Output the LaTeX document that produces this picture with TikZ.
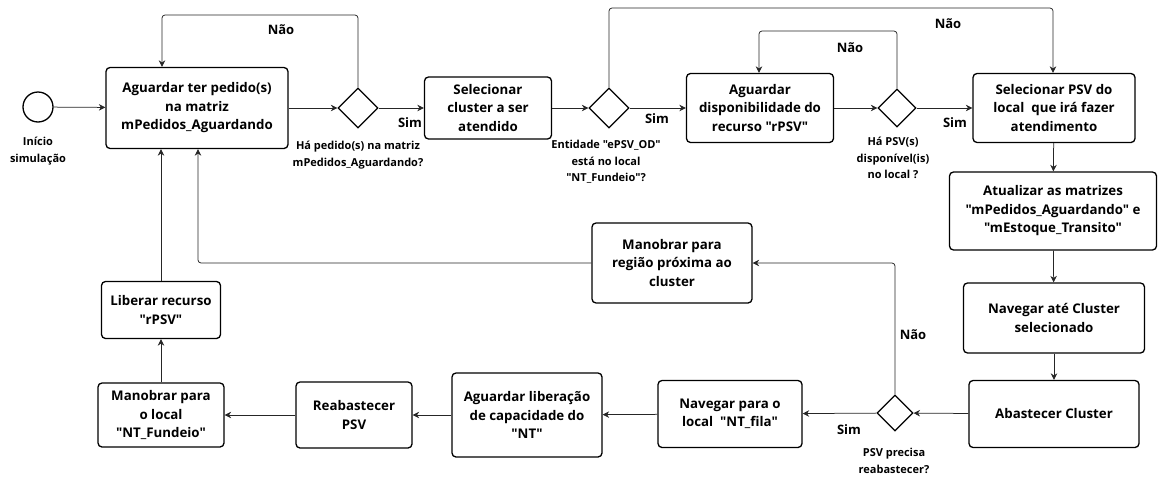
\documentclass[tikz,border=0pt]{standalone}
\usepackage{fontspec}
\setmainfont{Open Sans}[Ligatures=TeXOff]
\usetikzlibrary{shapes.geometric,arrows.meta}
\newcommand{\qq}{\symbol{34}}
\begin{document}
\begin{tikzpicture}[x=1pt,y=-1pt,
  font=\bfseries\fontsize{13.3}{18.5}\selectfont,
  box/.style={draw, line width=1.3pt, rounded corners=4pt, align=center, inner sep=2pt},
  gate/.style={draw, diamond, line width=1.3pt, minimum width=40pt, minimum height=40pt, inner sep=0pt},
  startev/.style={draw, circle, line width=1.3pt, minimum size=30pt, inner sep=0pt},
  conn/.style={draw=black!85, line width=0.75pt, -{Stealth[length=6.5pt,width=6.5pt]}},
  lbl/.style={font=\bfseries\fontsize{11}{16.5}\selectfont, align=center},
  ans/.style={font=\bfseries\fontsize{13}{15}\selectfont}
]
\useasboundingbox (0,0) rectangle (1159,477);

% top row
\node[startev] (start) at (38,107) {};
\node[lbl] (startlbl) at (38,151) {Início\\simulação};
\node[box, minimum width=182pt, minimum height=81pt] (A) at (197,108) {Aguardar ter pedido(s)\\na matriz\\mPedidos\_Aguardando};
\node[gate] (D1) at (358,108) {};
\node[lbl] (D1lbl) at (358,155) {Há pedido(s) na matriz\\mPedidos\_Aguardando?};
\node[box, minimum width=127pt, minimum height=62pt] (B) at (488,108) {Selecionar\\cluster a ser\\atendido};
\node[gate] (D2) at (609,108) {};
\node[lbl] (D2lbl) at (606,162) {Entidade \qq ePSV\_OD\qq\\está no local\\\qq NT\_Fundeio\qq?};
\node[box, minimum width=147pt, minimum height=69pt] (C) at (760,108) {Aguardar\\disponibilidade do\\recurso \qq rPSV\qq};
\node[gate, minimum width=38pt, minimum height=38pt] (D3) at (897,108) {};
\node[lbl] (D3lbl) at (893,158) {Há PSV(s)\\disponível(is)\\no local ?};
\node[box, minimum width=162pt, minimum height=69pt] (E) at (1054,108) {Selecionar PSV do\\local\ \ que irá fazer\\atendimento};

% right column
\node[box, minimum width=207pt, minimum height=78pt] (F) at (1053,211) {Atualizar as matrizes\\\qq mPedidos\_Aguardando\qq\ e\\\qq mEstoque\_Transito\qq};
\node[box, minimum width=181pt, minimum height=70pt] (G) at (1054,318) {Navegar até Cluster\\selecionado};
\node[box, minimum width=170pt, minimum height=67pt] (H) at (1054,414) {Abastecer Cluster};

% bottom row
\node[gate, minimum width=36pt, minimum height=36pt] (D4) at (895,413) {};
\node[lbl] (D4lbl) at (894,461) {PSV precisa\\reabastecer?};
\node[box, minimum width=160pt, minimum height=80pt] (I) at (672,263) {Manobrar para\\região próxima ao\\cluster};
\node[box, minimum width=144pt, minimum height=67pt] (J) at (730,414) {Navegar para o\\local\ \ \qq NT\_fila\qq};
\node[box, minimum width=150pt, minimum height=84pt] (K) at (527,415) {Aguardar liberação\\de capacidade do\\\qq NT\qq};
\node[box, minimum width=116pt, minimum height=66pt] (L) at (354,415) {Reabastecer\\PSV};
\node[box, minimum width=126pt, minimum height=64pt] (M) at (161,415) {Manobrar para\\o local\\\qq NT\_Fundeio\qq};
\node[box, minimum width=119pt, minimum height=57pt] (N) at (161,310) {Liberar recurso\\\qq rPSV\qq};

% loop corners
\coordinate (l1) at (162,15);
\coordinate (l2) at (1053,8);
\coordinate (l3) at (759,31);
\coordinate (l4) at (198,263);

% main flow
\draw[conn] (start) -- (A);
\draw[conn] (A) -- (D1);
\draw[conn] (D1) -- (B);
\draw[conn] (B) -- (D2);
\draw[conn] (D2) -- (C);
\draw[conn] (C) -- (D3);
\draw[conn] (D3) -- (E);
\draw[conn] (E) -- (F);
\draw[conn] (F) -- (G);
\draw[conn] (G) -- (H);
\draw[conn] (H) -- (D4);
\draw[conn] (D4) -- (J);
\draw[conn] (J) -- (K);
\draw[conn] (K) -- (L);
\draw[conn] (L) -- (M);
\draw[conn] (M) -- (N);
\draw[conn] (N.north) -- (N.north |- A.south);

% "Não" loops
\draw[conn, rounded corners=3pt] (D1.north) |- (l1) -- (l1 |- A.north);
\draw[conn, rounded corners=3pt] (D2.north) |- (l2) -- (l2 |- E.north);
\draw[conn, rounded corners=3pt] (D3.north) |- (l3) -- (l3 |- C.north);
\draw[conn, rounded corners=3pt] (D4.north) |- (I.east);
\draw[conn, rounded corners=3pt] (I.west) -- (l4) -- (l4 |- A.south);

% answers
\node[ans] (s1) at (410,123) {Sim};
\node[ans] (s2) at (657,119) {Sim};
\node[ans] (s3) at (955,123) {Sim};
\node[ans] (s4) at (849,430) {Sim};
\node[ans] (n1) at (281,30) {Não};
\node[ans] (n2) at (948,24) {Não};
\node[ans] (n3) at (850,48) {Não};
\node[ans] (n4) at (913,335) {Não};
\end{tikzpicture}
\end{document}
